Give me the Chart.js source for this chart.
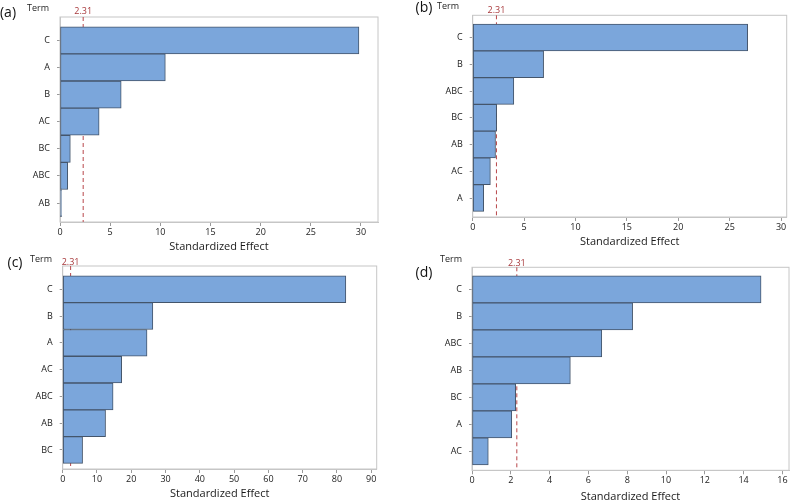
<!DOCTYPE html>
<html lang="en">
<head>
    <meta charset="UTF-8">
    <title>Pareto Charts of the Standardized Effects</title>
    <script src="https://cdn.jsdelivr.net/npm/chart.js"></script>
    <style>
        html, body {
            margin: 0;
            padding: 0;
            background: #ffffff;
            overflow: hidden;
        }
        #page {
            position: relative;
            width: 793px;
            height: 504px;
        }
        canvas {
            position: absolute;
        }
    </style>
</head>
<body>
<div id="page">
    <canvas id="chartA" width="396" height="256" style="left:0;top:0"></canvas>
    <canvas id="chartB" width="393" height="256" style="left:400px;top:0"></canvas>
    <canvas id="chartC" width="400" height="256" style="left:0;top:250px"></canvas>
    <canvas id="chartD" width="393" height="256" style="left:400px;top:250px"></canvas>
</div>

<script>
    // values
    const termsA = ['C', 'A', 'B', 'AC', 'BC', 'ABC', 'AB'];
    const effectsA = [29.8, 10.5, 6.1, 3.9, 1.03, 0.77, 0.15];

    const termsB = ['C', 'B', 'ABC', 'BC', 'AB', 'AC', 'A'];
    const effectsB = [26.75, 6.9, 4.0, 2.33, 2.22, 1.72, 1.07];

    const termsC = ['C', 'B', 'A', 'AC', 'ABC', 'AB', 'BC'];
    const effectsC = [82.6, 26.3, 24.6, 17.2, 14.7, 12.5, 5.8];

    const termsD = ['C', 'B', 'ABC', 'AB', 'BC', 'A', 'AC'];
    const effectsD = [14.9, 8.28, 6.69, 5.07, 2.25, 2.05, 0.84];

    const criticalValue = 2.31;
    const panelLetters = ['(a)', '(b)', '(c)', '(d)'];
    const xStepSizes = [5, 5, 10, 2];
    const axisTitle = 'Standardized Effect';
    const termTitle = 'Term';

    const FONT = '"Open Sans", "Noto Sans", sans-serif';
    const TITLE_SIZE = 11;

    // layout of each panel: canvas box (page coords) and plot rectangle
    const panels = [
        { id: 'chartA', box: [0, 0, 396, 256], plot: [60, 17, 378, 222], titleY: 247,
          xMax: 31.7, yMin: -0.86, yMax: 6.7, letter: [8, 13], term: [38, 8], thrY: 11 },
        { id: 'chartB', box: [400, 0, 393, 256], plot: [472.7, 15.3, 786.7, 217], titleY: 242,
          xMax: 30.55, yMin: -0.83, yMax: 6.71, letter: [424, 8], term: [448, 6], thrY: 10 },
        { id: 'chartC', box: [0, 250, 400, 256], plot: [62.7, 266, 376.7, 469], titleY: 494,
          xMax: 91.6, yMin: -0.87, yMax: 6.71, letter: [15, 263], term: [41, 259], thrY: 262 },
        { id: 'chartD', box: [400, 250, 393, 256], plot: [472, 267.3, 789, 470.3], titleY: 496.5,
          xMax: 16.34, yMin: -0.82, yMax: 6.7, letter: [424, 273], term: [451, 259], thrY: 263 }
    ];
    const termSets = [termsA, termsB, termsC, termsD];
    const effectSets = [effectsA, effectsB, effectsC, effectsD];

    const paretoExtras = {
        id: 'paretoExtras',
        beforeDatasetsDraw(chart, args, opts) {
            const { ctx, chartArea: a, scales } = chart;
            ctx.save();
            ctx.strokeStyle = '#c6c6c6';
            ctx.lineWidth = 1;
            ctx.strokeRect(a.left, a.top, a.right - a.left, a.bottom - a.top);
            const px = scales.x.getPixelForValue(opts.threshold);
            ctx.strokeStyle = '#b8474a';
            ctx.setLineDash([4, 3]);
            ctx.beginPath();
            ctx.moveTo(px, a.top);
            ctx.lineTo(px, a.bottom);
            ctx.stroke();
            ctx.restore();
        },
        afterDraw(chart, args, opts) {
            const { ctx, scales } = chart;
            const px = scales.x.getPixelForValue(opts.threshold);
            ctx.save();
            ctx.textAlign = 'center';
            ctx.textBaseline = 'middle';
            ctx.fillStyle = '#a8393c';
            ctx.font = '9px ' + FONT;
            ctx.fillText(opts.threshold.toFixed(2), px, opts.thrY);
            ctx.fillStyle = '#1e1e1e';
            ctx.font = '9px ' + FONT;
            ctx.fillText(termTitle, opts.term[0], opts.term[1]);
            ctx.fillStyle = '#111';
            ctx.font = '14px ' + FONT;
            ctx.fillText(opts.letter, opts.letterPos[0], opts.letterPos[1]);
            ctx.restore();
        }
    };

    panels.forEach((p, k) => {
        const [bx, by, bw, bh] = p.box;
        const [L, T, R, B] = p.plot;
        const terms = termSets[k];
        const effects = effectSets[k];
        const xHeight = p.titleY + TITLE_SIZE * 0.6 - B;
        const yWidth = L - bx;

        new Chart(document.getElementById(p.id), {
            type: 'bar',
            data: {
                datasets: [{
                    data: effects.map((v, i) => ({ x: v, y: i })),
                    backgroundColor: '#7ba6db',
                    borderColor: '#44556b',
                    borderWidth: 1,
                    borderSkipped: false,
                    barPercentage: 1,
                    categoryPercentage: 1
                }]
            },
            options: {
                indexAxis: 'y',
                responsive: false,
                animation: false,
                layout: {
                    padding: {
                        left: 0,
                        top: T - by,
                        right: bx + bw - R,
                        bottom: Math.max(by + bh - B - xHeight, 0)
                    }
                },
                plugins: {
                    legend: { display: false },
                    tooltip: { enabled: false },
                    paretoExtras: {
                        threshold: criticalValue,
                        thrY: p.thrY - by,
                        term: [p.term[0] - bx, p.term[1] - by],
                        letter: panelLetters[k],
                        letterPos: [p.letter[0] - bx, p.letter[1] - by]
                    }
                },
                scales: {
                    x: {
                        type: 'linear',
                        min: 0,
                        max: p.xMax,
                        afterFit: (s) => { s.height = xHeight; },
                        grid: { drawOnChartArea: false, drawTicks: true, tickLength: 4, color: '#9a9a9a' },
                        border: { display: true, color: '#c6c6c6' },
                        ticks: {
                            stepSize: xStepSizes[k],
                            includeBounds: false,
                            maxRotation: 0,
                            padding: 1,
                            color: '#222',
                            font: { family: FONT, size: 9 }
                        },
                        title: {
                            display: true,
                            text: axisTitle,
                            color: '#1a1a1a',
                            padding: 0,
                            font: { family: FONT, size: TITLE_SIZE }
                        }
                    },
                    y: {
                        type: 'linear',
                        reverse: true,
                        offset: false,
                        min: p.yMin,
                        max: p.yMax,
                        afterFit: (s) => { s.width = yWidth; },
                        afterBuildTicks: (s) => { s.ticks = terms.map((t, i) => ({ value: i })); },
                        grid: { offset: false, drawOnChartArea: false, drawTicks: true, tickLength: 3, color: '#9a9a9a' },
                        border: { display: true, color: '#c6c6c6' },
                        ticks: {
                            padding: 7,
                            color: '#222',
                            font: { family: FONT, size: 9 },
                            callback: (v) => terms[v]
                        }
                    }
                }
            },
            plugins: [paretoExtras]
        });
    });
</script>
</body>
</html>
